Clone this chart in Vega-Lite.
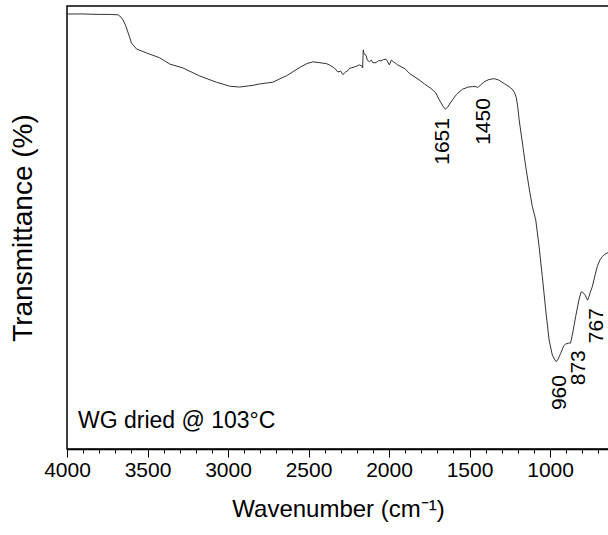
{
  "$schema": "https://vega.github.io/schema/vega-lite/v6.json",
  "width": 542,
  "height": 443,
  "autosize": "none",
  "padding": {"left": 67, "top": 6, "right": 0, "bottom": 86},
  "background": "white",
  "config": {
    "font": "Liberation Sans",
    "view": {"stroke": "black", "strokeWidth": 1.5},
    "axis": {"labelColor": "black", "titleColor": "black", "domainColor": "black", "tickColor": "black", "labelFont": "Liberation Sans", "titleFont": "Liberation Sans", "titleFontWeight": "normal"}
  },
  "datasets": {
    "spectrum": [
      {"wn": 4000, "t": 98.2}, {"wn": 3900, "t": 98.2}, {"wn": 3800, "t": 98.1}, {"wn": 3734, "t": 98.1},
      {"wn": 3682, "t": 98.0}, {"wn": 3665, "t": 97.5}, {"wn": 3651, "t": 96.8}, {"wn": 3635, "t": 95.5},
      {"wn": 3620, "t": 93.9}, {"wn": 3599, "t": 91.6}, {"wn": 3568, "t": 90.3}, {"wn": 3506, "t": 89.4},
      {"wn": 3424, "t": 88.3}, {"wn": 3362, "t": 86.9}, {"wn": 3279, "t": 86.0}, {"wn": 3176, "t": 84.2},
      {"wn": 3072, "t": 82.8}, {"wn": 2990, "t": 81.9}, {"wn": 2928, "t": 81.7}, {"wn": 2845, "t": 82.1},
      {"wn": 2804, "t": 82.4}, {"wn": 2721, "t": 82.8}, {"wn": 2659, "t": 83.9}, {"wn": 2638, "t": 84.2},
      {"wn": 2600, "t": 85.1}, {"wn": 2556, "t": 86.1}, {"wn": 2510, "t": 87.0}, {"wn": 2473, "t": 87.4},
      {"wn": 2430, "t": 87.2}, {"wn": 2390, "t": 87.0}, {"wn": 2370, "t": 86.7}, {"wn": 2339, "t": 86.0},
      {"wn": 2318, "t": 85.1}, {"wn": 2300, "t": 85.3}, {"wn": 2287, "t": 84.5}, {"wn": 2270, "t": 85.1},
      {"wn": 2256, "t": 85.4}, {"wn": 2246, "t": 85.9}, {"wn": 2210, "t": 86.3}, {"wn": 2184, "t": 86.7},
      {"wn": 2170, "t": 86.5}, {"wn": 2164, "t": 86.0}, {"wn": 2160, "t": 90.1}, {"wn": 2155, "t": 89.2},
      {"wn": 2143, "t": 88.9}, {"wn": 2135, "t": 87.8}, {"wn": 2122, "t": 87.4}, {"wn": 2110, "t": 87.8},
      {"wn": 2100, "t": 87.2}, {"wn": 2081, "t": 87.2}, {"wn": 2065, "t": 87.7}, {"wn": 2050, "t": 87.6},
      {"wn": 2035, "t": 87.9}, {"wn": 2019, "t": 88.0}, {"wn": 2008, "t": 87.4}, {"wn": 1998, "t": 86.7},
      {"wn": 1985, "t": 87.8}, {"wn": 1973, "t": 87.4}, {"wn": 1960, "t": 87.1}, {"wn": 1946, "t": 86.7},
      {"wn": 1900, "t": 85.8}, {"wn": 1874, "t": 84.8}, {"wn": 1812, "t": 83.3}, {"wn": 1780, "t": 82.4},
      {"wn": 1740, "t": 81.4}, {"wn": 1710, "t": 80.4}, {"wn": 1688, "t": 78.8}, {"wn": 1665, "t": 77.4},
      {"wn": 1651, "t": 76.7}, {"wn": 1635, "t": 77.2}, {"wn": 1620, "t": 78.1}, {"wn": 1606, "t": 78.8},
      {"wn": 1580, "t": 80.1}, {"wn": 1544, "t": 81.2}, {"wn": 1510, "t": 81.7}, {"wn": 1482, "t": 81.8},
      {"wn": 1460, "t": 81.8}, {"wn": 1450, "t": 81.6}, {"wn": 1430, "t": 82.2}, {"wn": 1409, "t": 82.9},
      {"wn": 1380, "t": 83.4}, {"wn": 1347, "t": 83.6}, {"wn": 1320, "t": 83.3}, {"wn": 1285, "t": 82.5},
      {"wn": 1255, "t": 81.8}, {"wn": 1234, "t": 81.2}, {"wn": 1220, "t": 80.4}, {"wn": 1209, "t": 79.2},
      {"wn": 1200, "t": 77.0}, {"wn": 1192, "t": 74.3}, {"wn": 1170, "t": 68.6}, {"wn": 1151, "t": 63.7},
      {"wn": 1130, "t": 58.9}, {"wn": 1110, "t": 54.7}, {"wn": 1089, "t": 51.7}, {"wn": 1068, "t": 45.7},
      {"wn": 1048, "t": 38.9}, {"wn": 1027, "t": 31.4}, {"wn": 1006, "t": 24.6}, {"wn": 986, "t": 21.2},
      {"wn": 970, "t": 20.1}, {"wn": 961, "t": 19.7}, {"wn": 950, "t": 20.3}, {"wn": 934, "t": 21.6},
      {"wn": 915, "t": 23.3}, {"wn": 903, "t": 23.7}, {"wn": 885, "t": 23.9}, {"wn": 873, "t": 23.9},
      {"wn": 862, "t": 25.7}, {"wn": 841, "t": 29.9}, {"wn": 821, "t": 33.6}, {"wn": 808, "t": 35.4},
      {"wn": 800, "t": 35.5}, {"wn": 783, "t": 34.8}, {"wn": 767, "t": 33.6}, {"wn": 763, "t": 33.9},
      {"wn": 750, "t": 35.4}, {"wn": 738, "t": 36.6}, {"wn": 720, "t": 39.3}, {"wn": 707, "t": 41.2},
      {"wn": 690, "t": 42.7}, {"wn": 676, "t": 43.4}, {"wn": 660, "t": 44.0}, {"wn": 647, "t": 44.2},
      {"wn": 634, "t": 44.4}
    ],
    "peaks": [
      {"label": "1651", "wn": 1663, "t": 74.7},
      {"label": "1450", "wn": 1410, "t": 79.2},
      {"label": "960", "wn": 938, "t": 16.7},
      {"label": "873", "wn": 822, "t": 22.3},
      {"label": "767", "wn": 709, "t": 31.8}
    ],
    "note": [
      {"label": "WG dried @ 103°C", "wn": 3932, "t": 4.7}
    ]
  },
  "layer": [
    {
      "data": {"name": "spectrum"},
      "mark": {"type": "line", "stroke": "#333333", "strokeWidth": 1, "clip": true},
      "encoding": {
        "x": {
          "field": "wn", "type": "quantitative",
          "scale": {"domain": [4000, 634], "nice": false, "zero": false},
          "axis": {
            "orient": "bottom",
            "title": "Wavenumber (cm⁻¹)",
            "titleFontSize": 24,
            "titlePadding": 17,
            "values": [4000, 3500, 3000, 2500, 2000, 1500, 1000],
            "format": "d",
            "labelOverlap": false,
            "labelFlush": false,
            "labelFontSize": 21,
            "labelPadding": 2,
            "tickSize": 8,
            "tickWidth": 1,
            "domainWidth": 1.5,
            "grid": false
          }
        },
        "y": {
          "field": "t", "type": "quantitative",
          "scale": {"domain": [0, 100], "nice": false, "zero": false},
          "axis": {
            "title": "Transmittance (%)",
            "titleFontSize": 28,
            "titlePadding": 30,
            "labels": false, "ticks": false, "domain": false, "grid": false
          }
        }
      }
    },
    {
      "data": {"name": "peaks"},
      "mark": {"type": "text", "angle": 270, "align": "right", "baseline": "middle", "fontSize": 21, "font": "Liberation Sans", "color": "black"},
      "encoding": {
        "x": {
          "field": "wn", "type": "quantitative",
          "axis": {
            "orient": "bottom",
            "title": null,
            "values": [3900, 3800, 3700, 3600, 3400, 3300, 3200, 3100, 2900, 2800, 2700, 2600, 2400, 2300, 2200, 2100, 1900, 1800, 1700, 1600, 1400, 1300, 1200, 1100, 900, 800, 700],
            "labels": false,
            "domain": false,
            "grid": false,
            "tickSize": 4,
            "tickWidth": 1
          }
        },
        "y": {"field": "t", "type": "quantitative", "axis": null},
        "text": {"field": "label"}
      }
    },
    {
      "data": {"name": "note"},
      "mark": {"type": "text", "align": "left", "baseline": "alphabetic", "fontSize": 23, "font": "Liberation Sans", "color": "black"},
      "encoding": {
        "x": {"field": "wn", "type": "quantitative", "axis": null},
        "y": {"field": "t", "type": "quantitative", "axis": null},
        "text": {"field": "label"}
      }
    }
  ],
  "resolve": {"axis": {"x": "independent", "y": "independent"}}
}
